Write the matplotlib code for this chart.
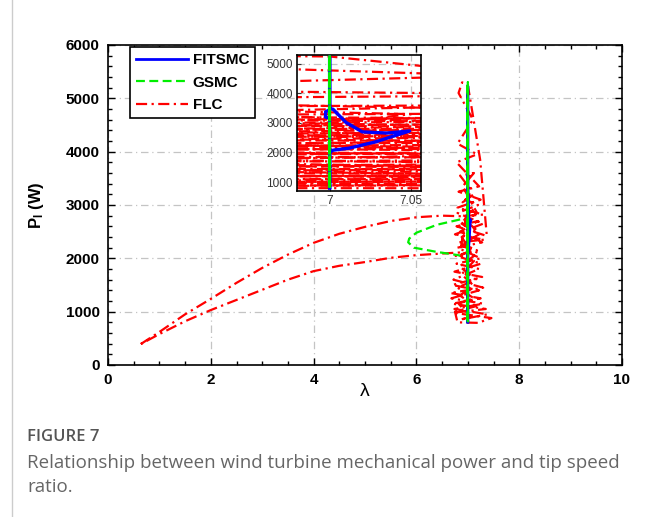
import matplotlib
matplotlib.use('Agg')
import matplotlib.pyplot as plt
from matplotlib.ticker import MultipleLocator
from matplotlib.collections import LineCollection

plt.rcParams['font.family'] = ['Liberation Sans', 'DejaVu Sans']
plt.rcParams['mathtext.fontset'] = 'custom'
plt.rcParams['mathtext.bf'] = 'Liberation Sans:bold'
plt.rcParams['mathtext.rm'] = 'Liberation Sans'

# FLC: startup branch, oscillation cluster near lambda = 7, return branch
flc_lam = [0.64, 1.0, 1.5, 2.0, 2.5, 3.0, 3.5, 4.0, 4.5, 5.0, 5.5, 6.0, 6.5, 6.85,
           7.30, 6.80, 7.25, 6.82, 7.22, 6.78, 7.18, 6.80, 7.10, 6.82, 6.89, 7.00,
           7.07, 7.24, 7.37, 6.78, 7.20, 6.85, 7.28, 6.80, 7.25, 6.78, 7.22, 6.72,
           7.30, 6.66, 7.25, 6.70, 7.35, 6.72, 7.46, 7.20, 6.80, 6.75, 7.15, 6.85,
           7.10, 6.88, 7.12, 6.85, 7.05, 6.88, 7.15, 6.90, 7.10, 6.90, 7.12, 6.95,
           7.20, 6.80, 7.30, 6.75, 7.32, 6.82, 7.18, 6.76, 7.26, 6.74, 7.28, 6.70,
           7.22, 6.68, 7.30, 6.74, 7.38, 6.85, 7.05, 6.82, 7.12, 6.80, 7.15, 6.84,
           7.20, 6.86, 7.22, 6.88, 7.18, 6.90, 7.12, 6.85, 7.05,
           6.85, 6.5, 6.0, 5.5, 5.0, 4.5, 4.0, 3.5, 3.0, 2.5, 2.0, 1.5, 1.0, 0.64]
flc_p = [394, 620, 950, 1240, 1540, 1820, 2070, 2290, 2460, 2590, 2700, 2770, 2800, 2790,
         2820, 2950, 3100, 3250, 3350, 3800, 3950, 4150, 4600, 5100, 5300, 5250,
         4850, 3850, 2420, 2600, 2700, 2500, 2300, 2200, 2000, 1900, 1800, 1600,
         1450, 1350, 1250, 1150, 1050, 980, 880, 790, 800, 1000, 1100, 1300,
         1500, 1700, 1950, 2050, 2150, 2400, 2550, 2750, 2900, 3050, 3200, 3100,
         3000, 2850, 2650, 2450, 2350, 2300, 2150, 2050, 1900, 1750, 1650, 1500,
         1400, 1250, 1150, 1050, 950, 850, 900, 1150, 1250, 1450, 1600, 1850,
         2100, 2250, 2450, 2650, 2850, 3350, 3600, 3550, 3300,
         2110, 2090, 2060, 2010, 1930, 1860, 1760, 1600, 1410, 1220, 1030, 820, 580, 394]

# GSMC: small loop left of the operating point, then the vertical track at 7
gsmc_lam = [6.85, 6.81, 6.4, 6.0, 5.86, 5.84, 5.95, 6.4, 6.81, 6.85, None,
            7.0, 7.0, 7.0, 7.0, 7.0]
gsmc_p = [2730, 2720, 2630, 2480, 2370, 2300, 2200, 2120, 2060, 2050, None,
          800, 5300, 810, 5290, 800]

# FITSMC: vertical track at 7 with a small excursion seen in the zoom
fitsmc_lam = [7.0, 7.0, 6.9975, 6.9975, 7.0, 7.0, 7.0, 7.002, 7.01, 7.02, 7.035,
              7.049, 7.028, 7.012, 7.002, 7.0, 7.0]
fitsmc_p = [800, 3150, 3200, 3380, 3450, 5230, 3480, 3470, 3020, 2700, 2660,
            2730, 2360, 2150, 2080, 2000, 820]

x_ticks = [0, 2, 4, 6, 8, 10]
y_ticks = [0, 1000, 2000, 3000, 4000, 5000, 6000]
inset_x_ticks = [7, 7.05]
inset_y_ticks = [1000, 2000, 3000, 4000, 5000]

fig = plt.figure(figsize=(6.52, 5.17), dpi=100)
fig.add_artist(plt.Line2D([12 / 652, 12 / 652], [0, 1], color='#cccccc', lw=1))

ax = fig.add_axes([108 / 652, 1 - 365 / 517, 514 / 652, 320 / 517])
ins = fig.add_axes([297 / 652, 1 - 191 / 517, 124 / 652, 136 / 517])

red_dash = (0, (5, 2, 1, 2))

# main axes
l_flc, = ax.plot(flc_lam, flc_p, color='#ff0000', lw=1.6, linestyle=red_dash, zorder=2)
l_fit, = ax.plot(fitsmc_lam, fitsmc_p, color='#0000ff', lw=2.0, zorder=3)
l_gs, = ax.plot(gsmc_lam, gsmc_p, color='#00ee00', lw=1.6, linestyle=(0, (4, 2)), zorder=4)

# inset: each FLC segment with its own dash phase so clipped dashes don't line up
flc_segs = [[(flc_lam[i], flc_p[i]), (flc_lam[i + 1], flc_p[i + 1])]
            for i in range(len(flc_lam) - 1)]
seg_styles = [((i * 3.3) % 9, (5, 2, 1, 2)) for i in range(len(flc_segs))]
ins.add_collection(LineCollection(flc_segs, colors='#ff0000', linewidths=1.6,
                                  linestyles=seg_styles, zorder=2))
ins.plot(fitsmc_lam, fitsmc_p, color='#0000ff', lw=2.4, zorder=3)
ins.plot(gsmc_lam, gsmc_p, color='#00ee00', lw=2.0, linestyle=(0, (4, 2)), zorder=4)

ax.set_xlim(0, 10)
ax.set_ylim(0, 6000)
ax.set_xticks(x_ticks)
ax.set_yticks(y_ticks)
ax.xaxis.set_minor_locator(MultipleLocator(0.5))
ax.yaxis.set_minor_locator(MultipleLocator(200))
ax.tick_params(which='both', direction='in', top=True, right=True, width=1)
ax.tick_params(which='major', length=5, labelsize=11, pad=6)
ax.tick_params(which='minor', length=3)
for lab in ax.get_xticklabels() + ax.get_yticklabels():
    lab.set_fontweight('bold')
ax.grid(True, color='#c4c4c4', linestyle=(0, (6, 3, 1, 3)), lw=0.9)
ax.set_axisbelow(True)
for s in ax.spines.values():
    s.set_linewidth(1.2)

ax.set_xlabel('λ', fontsize=14)
ax.xaxis.set_label_coords(0.5, -0.055)
ax.set_ylabel(r'$\mathbf{P_l}$ (W)', fontsize=12, fontweight='bold')
ax.yaxis.set_label_coords(-0.12, 0.5)

leg = ax.legend([l_fit, l_gs, l_flc], ['FITSMC', 'GSMC', 'FLC'], loc='upper left',
                bbox_to_anchor=(22 / 514, 1 - 2 / 320), borderaxespad=0,
                prop={'weight': 'bold', 'size': 11},
                handlelength=3.4, handletextpad=0.3, borderpad=0.4, labelspacing=0.55,
                fancybox=False, framealpha=1, edgecolor='black')
leg.get_frame().set_linewidth(1.2)
leg.set_zorder(10)

ins.set_xlim(6.98, 7.056)
ins.set_ylim(700, 5300)
ins.set_xticks(inset_x_ticks)
ins.set_xticklabels(['7', '7.05'])
ins.set_yticks(inset_y_ticks)
ins.tick_params(direction='in', length=3, labelsize=8.5, colors='#333333', pad=3)
ins.grid(True, color='#c4c4c4', linestyle=(0, (6, 3, 1, 3)), lw=0.9)
ins.set_axisbelow(True)
for s in ins.spines.values():
    s.set_linewidth(1.2)

fig.text(27 / 652, 1 - 437 / 517, 'FIGURE 7', fontsize=12, color='#555555',
         family='Open Sans', fontweight='semibold', va='center')
fig.text(27 / 652, 1 - 475 / 517,
         'Relationship between wind turbine mechanical power and tip speed\nratio.',
         fontsize=13.5, color='#666666', family='Open Sans', va='center',
         linespacing=1.5)

fig.savefig('out.png', dpi=100)
